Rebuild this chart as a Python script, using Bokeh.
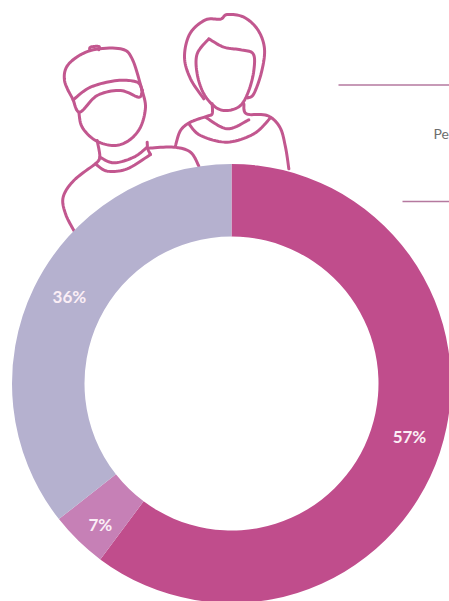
import math
from bokeh.plotting import figure
from bokeh.models import Range1d, ColumnDataSource
from bokeh.core.properties import value
from bokeh.embed import file_html
from bokeh.resources import INLINE

# Data
labels = ["57%", "7%", "36%"]
drawn_shares = [60.2, 4.2, 35.6]   # arc lengths as pictured
colors = ["#c04d8c", "#c680b6", "#b5b1cf"]
caption = "Pe"

# Layout (page pixels)
CX, CY = 231.0, 383.0
R_OUT, R_IN = 219.5, 147.0
W, H = 449, 601
LINE = "#c2578f"
label_radius = [185.7, 192.4, 183.9]
label_bearing = [106.6, 223.0, 298.2]  # degrees clockwise from the top

def px(x, y):
    return x - CX, CY - y

def z(pts):
    # zoom-crop coordinates -> page pixels
    return [(40 + a / 3, b / 3) for a, b in pts]

def smooth(pts, n=10):
    P = [pts[0]] + pts + [pts[-1]]
    out = []
    for i in range(1, len(P) - 2):
        p0, p1, p2, p3 = P[i - 1], P[i], P[i + 1], P[i + 2]
        for k in range(n):
            t = k / n
            f = lambda a, b, c, d: 0.5 * (2*b + (c-a)*t + (2*a-5*b+4*c-d)*t*t + (3*b-a-3*c+d)*t**3)
            out.append((f(p0[0], p1[0], p2[0], p3[0]), f(p0[1], p1[1], p2[1], p3[1])))
    out.append(pts[-1])
    return out

strokes = [
    # woman: hair
    [(490,295),(450,235),(432,170),(448,100),(495,58),(540,56),(560,42),(610,50),(652,88),(672,145),(663,215),(640,280),(622,292)],
    # face
    [(505,115),(470,160),(470,220),(490,280),(525,320),(560,330),(600,315),(625,270),(640,210),(638,160),(600,148),(550,140),(505,115)],
    # shoulders and collar
    [(405,435),(420,390),(450,365),(500,347),(515,340),(515,310)],
    [(610,310),(618,340),(680,345),(718,380),(735,440),(745,505)],
    [(445,370),(480,405),(560,425),(640,400),(690,352)],
    [(495,350),(560,385),(625,358)],
    # man: cap
    [(98,298),(72,240),(85,190),(150,150),(240,145),(275,175),(305,270)],
    [(148,150),(150,140),(175,138),(175,148)],
    [(98,298),(150,260),(230,240),(290,245),(305,270)],
    [(305,270),(295,290),(240,270),(170,285),(118,335),(98,298)],
    # face
    [(115,335),(125,380),(165,420),(220,435),(265,420),(300,380),(315,320),(305,270)],
    # neck and collar
    [(170,420),(178,470),(165,490)],
    [(165,490),(200,512),(260,505),(330,462)],
    [(178,470),(220,487),(280,470),(320,440)],
    [(320,425),(322,445),(330,462)],
    # shoulders
    [(325,443),(400,440),(450,455),(475,497)],
    [(165,490),(100,540),(68,590),(75,640),(100,690)],
]

p = figure(width=W, height=H, output_backend="svg", toolbar_location=None,
           x_range=Range1d(0 - CX, W - CX), y_range=Range1d(CY - H, CY - 0),
           min_border=0, outline_line_color=None, background_fill_color="white")
p.axis.visible = False
p.grid.visible = False

xs, ys = [], []
for s in strokes:
    pts = [px(a, b) for a, b in smooth(z(s))]
    xs.append([a for a, _ in pts])
    ys.append([b for _, b in pts])
p.multi_line(xs, ys, line_color=LINE, line_width=3, line_join="round", line_cap="round")

# Rules and caption
x0, y0 = px(338, 84.5); x1, _ = px(449, 84.5)
p.line([x0, x1], [y0, y0], line_color="#b5799f", line_width=1.3)
x0, y0 = px(402, 201); x1, _ = px(449, 201)
p.line([x0, x1], [y0, y0], line_color="#b5799f", line_width=1.3)
tx, ty = px(433, 133)
p.text([tx], [ty], text=[caption], text_font=value("Lato"), text_font_size="14px",
       text_color="#6e6e6e", text_baseline="middle", text_align="left")

# Donut
total = sum(drawn_shares)
starts, ends = [], []
c = 0.0
for v in drawn_shares:
    starts.append(math.pi / 2 - 2 * math.pi * c / total)
    c += v
    ends.append(math.pi / 2 - 2 * math.pi * c / total)
src = ColumnDataSource(dict(start=starts, end=ends, color=colors))
p.annular_wedge(x=0, y=0, inner_radius=R_IN, outer_radius=R_OUT, start_angle="start",
                end_angle="end", direction="clock", fill_color="color", line_color=None, source=src)

p.text([r * math.sin(math.radians(b)) for r, b in zip(label_radius, label_bearing)],
       [r * math.cos(math.radians(b)) for r, b in zip(label_radius, label_bearing)],
       text=labels, text_font=value("Lato"), text_font_style="bold", text_font_size="17px",
       text_color="#fbeef6", text_align="center", text_baseline="middle")

open("out.html", "w").write(file_html(p, INLINE))
